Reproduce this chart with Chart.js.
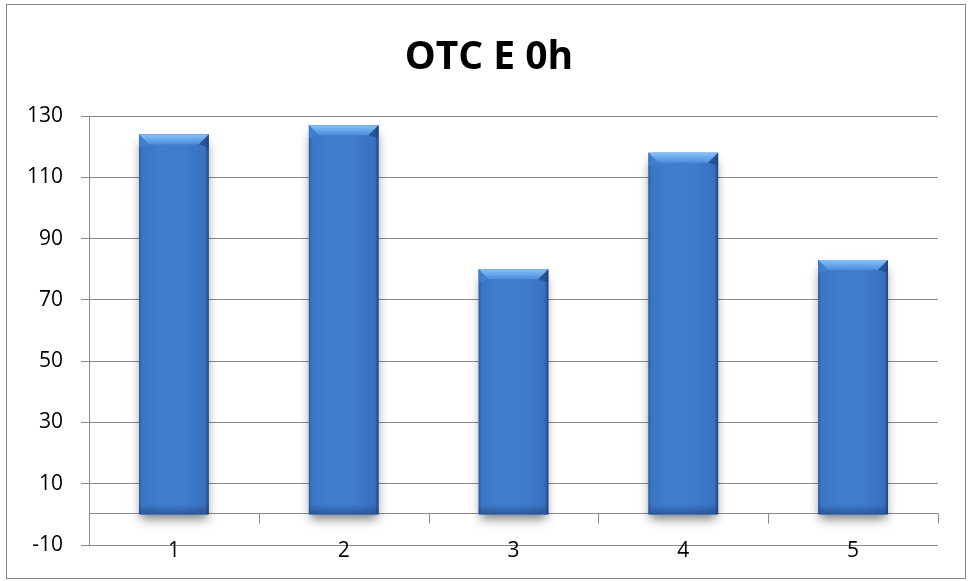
<!DOCTYPE html>
<html>
<head>
<meta charset="utf-8">
<script src="https://cdn.jsdelivr.net/npm/chart.js@4.4.0/dist/chart.umd.min.js"></script>
<style>
  html, body { margin: 0; padding: 0; background: #fff; }
  #wrap { width: 970px; height: 581px; position: relative; }
</style>
</head>
<body>
<div id="wrap"><canvas id="c" width="970" height="581"></canvas></div>
<script>
const categories = ['1', '2', '3', '4', '5'];
const values = [124, 127, 80, 118, 83];
const titleText = 'OTC E 0h';
const yMin = -10, yMax = 130, yStep = 20;

const GRID = '#8a8a8a';
const FONT = "'Open Sans', 'Liberation Sans', sans-serif";

const framePlugin = {
  id: 'frame',
  beforeDraw(chart) {
    const c = chart.ctx;
    c.save();
    c.fillStyle = '#fff';
    c.fillRect(0, 0, chart.width, chart.height);
    c.strokeStyle = '#878787';
    c.lineWidth = 1;
    c.strokeRect(6.5, 4.5, 959, 574);
    c.restore();
  },
  afterDraw(chart) {
    const c = chart.ctx, xs = chart.scales.x;
    c.save();
    c.fillStyle = '#000';
    c.textAlign = 'center';
    c.textBaseline = 'alphabetic';
    c.font = 'bold 39px ' + FONT;
    c.fillText(titleText, 489, 69);
    c.font = '21px ' + FONT;
    categories.forEach((lab, i) => {
      c.fillText(lab, xs.getPixelForValue(i), 557);
    });
    c.restore();
  }
};

const zeroAxisPlugin = {
  id: 'zeroAxis',
  beforeDatasetsDraw(chart) {
    const c = chart.ctx, xs = chart.scales.x, ys = chart.scales.y, a = chart.chartArea;
    const y0 = Math.round(ys.getPixelForValue(0)) - 0.5;
    const half = (xs.getPixelForValue(1) - xs.getPixelForValue(0)) / 2;
    c.save();
    c.strokeStyle = GRID;
    c.lineWidth = 1;
    c.beginPath();
    c.moveTo(a.left, y0);
    c.lineTo(a.right, y0);
    for (let i = 0; i <= categories.length; i++) {
      const bx = Math.round(xs.getPixelForValue(0) - half + i * 2 * half) + 0.5;
      c.moveTo(bx, y0);
      c.lineTo(bx, y0 + 10);
    }
    c.stroke();
    const meta = chart.getDatasetMeta(0);
    meta.data.forEach(el => {
      const p = el.getProps(['x', 'y', 'base', 'width'], true);
      const L = p.x - p.width / 2;
      c.save();
      c.shadowColor = 'rgba(0,0,0,0.5)';
      c.shadowBlur = 10;
      c.shadowOffsetY = 5;
      c.fillStyle = '#2d5a98';
      c.fillRect(L + 2, p.y + 4, p.width - 4, p.base - p.y - 4);
      c.restore();
    });
    c.restore();
  }
};

const bevelPlugin = {
  id: 'bevel',
  afterDatasetsDraw(chart) {
    const c = chart.ctx;
    const meta = chart.getDatasetMeta(0);
    meta.data.forEach(el => {
      const p = el.getProps(['x', 'y', 'base', 'width'], true);
      const L = p.x - p.width / 2, R = p.x + p.width / 2, T = p.y, B = p.base;
      c.save();
      const g = c.createLinearGradient(L, 0, R, 0);
      g.addColorStop(0, '#2b5998');
      g.addColorStop(0.04, '#3b76c6');
      g.addColorStop(0.3, '#3f7dcf');
      g.addColorStop(0.65, '#3f7ccd');
      g.addColorStop(0.95, '#3870bf');
      g.addColorStop(1, '#1e4276');
      c.fillStyle = g;
      c.fillRect(L, T, R - L, B - T);
      const gb = c.createLinearGradient(0, B - 10, 0, B);
      gb.addColorStop(0, 'rgba(25,55,100,0)');
      gb.addColorStop(1, 'rgba(25,55,100,0.5)');
      c.fillStyle = gb;
      c.fillRect(L, B - 10, R - L, 10);
      const b = 10;
      const gt = c.createLinearGradient(0, T, 0, T + b);
      gt.addColorStop(0, '#86c2f8');
      gt.addColorStop(0.5, '#68a8ec');
      gt.addColorStop(1, '#4b8bda');
      c.fillStyle = gt;
      c.beginPath();
      c.moveTo(L, T);
      c.lineTo(R, T);
      c.lineTo(R - b, T + b);
      c.lineTo(L + b, T + b);
      c.closePath();
      c.fill();
      c.fillStyle = 'rgba(70,130,210,0.75)';
      c.beginPath();
      c.moveTo(L, T); c.lineTo(L + b, T + b); c.lineTo(L, T + b + 3); c.closePath(); c.fill();
      c.fillStyle = 'rgba(30,65,125,0.6)';
      c.beginPath();
      c.moveTo(R, T); c.lineTo(R - b, T + b); c.lineTo(R, T + b + 3); c.closePath(); c.fill();
      c.restore();
    });
  }
};

new Chart(document.getElementById('c'), {
  type: 'bar',
  data: {
    labels: categories,
    datasets: [{
      data: values,
      backgroundColor: '#3d7acb',
      borderWidth: 0,
      barPercentage: 0.41,
      categoryPercentage: 1.0
    }]
  },
  options: {
    responsive: false,
    animation: false,
    events: [],
    layout: { padding: { left: 0, right: 32, top: 116, bottom: 0 } },
    plugins: {
      legend: { display: false },
      tooltip: { enabled: false },
      title: { display: false }
    },
    scales: {
      x: {
        grid: { display: false, drawTicks: false },
        border: { display: false },
        ticks: { display: false },
        afterFit(s) { s.height = 36; }
      },
      y: {
        min: yMin,
        max: yMax,
        ticks: { stepSize: yStep, color: '#000', font: { family: FONT, size: 21 }, padding: 18 },
        grid: { color: GRID, lineWidth: 1, drawTicks: true, tickLength: 8, tickColor: GRID },
        border: { display: true, color: GRID, width: 1 },
        afterFit(s) { s.width = 89; }
      }
    }
  },
  plugins: [framePlugin, zeroAxisPlugin, bevelPlugin]
});
</script>
</body>
</html>
